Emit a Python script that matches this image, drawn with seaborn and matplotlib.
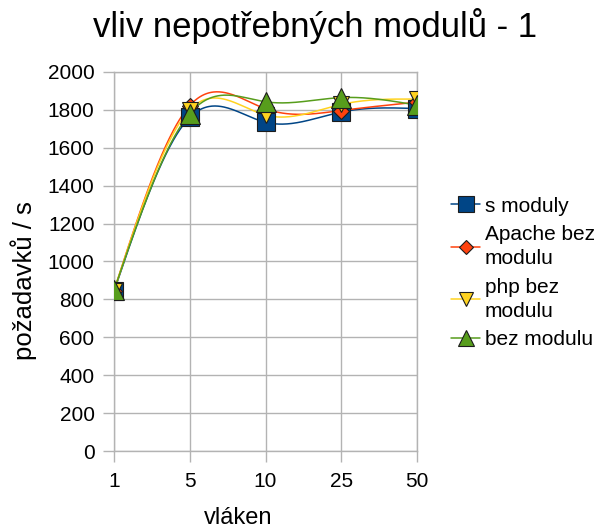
import matplotlib
matplotlib.use("Agg")
import matplotlib.pyplot as plt
from matplotlib.lines import Line2D
import numpy as np
import seaborn as sns

threads = ["1", "5", "10", "25", "50"]
s_moduly = [842, 1760, 1734, 1788, 1806]
apache_bez = [845, 1822, 1805, 1796, 1840]
php_bez = [846, 1800, 1772, 1828, 1856]
bez_modulu = [848, 1780, 1842, 1864, 1824]

series_names = ["s moduly", "Apache bez\nmodulu", "php bez\nmodulu", "bez modulu"]
series_vals = [s_moduly, apache_bez, php_bez, bez_modulu]
colors = ["#004586", "#ff420e", "#ffd320", "#579d1c"]
markers = ["s", "D", "v", "^"]
msizes = [13, 8, 12, 14]


def natural_spline(x, y, xs):
    x = np.asarray(x, float)
    y = np.asarray(y, float)
    n = len(x)
    h = np.diff(x)
    A = np.zeros((n, n))
    r = np.zeros(n)
    A[0, 0] = A[-1, -1] = 1
    for i in range(1, n - 1):
        A[i, i - 1] = h[i - 1]
        A[i, i] = 2 * (h[i - 1] + h[i])
        A[i, i + 1] = h[i]
        r[i] = 3 * ((y[i + 1] - y[i]) / h[i] - (y[i] - y[i - 1]) / h[i - 1])
    c = np.linalg.solve(A, r)
    out = np.empty_like(xs)
    for k, t in enumerate(xs):
        i = min(np.searchsorted(x, t, side="right") - 1, n - 2)
        dx = t - x[i]
        b = (y[i + 1] - y[i]) / h[i] - h[i] * (2 * c[i] + c[i + 1]) / 3
        d = (c[i + 1] - c[i]) / (3 * h[i])
        out[k] = y[i] + b * dx + c[i] * dx ** 2 + d * dx ** 3
    return out


sns.set_style("white")
plt.rcParams["font.family"] = ["Liberation Sans", "DejaVu Sans"]
plt.rcParams["text.color"] = "black"

fig = plt.figure(figsize=(6.0, 5.32), dpi=100)
ax = fig.add_axes([0.19, 0.152, 0.505, 0.713])

pos = np.arange(len(threads))
dense = np.linspace(0, len(threads) - 1, 400)

for vals, c in zip(series_vals, colors):
    sns.lineplot(x=dense, y=natural_spline(pos, vals, dense), color=c, lw=1.1, ax=ax, zorder=2)

for vals, c, m, ms in zip(series_vals, colors, markers, msizes):
    ax.plot(pos, vals, linestyle="none", marker=m, markersize=ms, color=c,
            markeredgecolor="#1c1c1c", markeredgewidth=0.8, zorder=3)

ax.set_xlim(0, len(threads) - 1)
ax.set_ylim(0, 2000)
ax.set_xticks(pos)
ax.set_xticklabels(threads)
ax.set_yticks(np.arange(0, 2001, 200))
ax.grid(True, color="#b3b3b3", lw=1)
ax.set_axisbelow(True)
for sp in ax.spines.values():
    sp.set_color("#b3b3b3")
    sp.set_linewidth(1)
ax.tick_params(axis="both", length=8, width=1, color="#b3b3b3", labelsize=15,
               labelcolor="black", direction="out", left=True, bottom=True)
ax.tick_params(axis="y", pad=6)
ax.tick_params(axis="x", pad=7)

ax.set_ylabel("požadavků / s", fontsize=18.5, color="black")
ax.yaxis.set_label_coords(-0.255, 0.45)
ax.set_xlabel("vláken", fontsize=17, color="black")
ax.xaxis.set_label_coords(0.41, -0.148)
fig.suptitle("vliv nepotřebných modulů - 1", fontsize=25, x=0.525, y=0.985, color="black")

handles = [Line2D([0], [0], color=c, lw=1.1, marker=m, markersize=ms * 0.85,
                  markeredgecolor="#1c1c1c", markeredgewidth=0.8)
           for c, m, ms in zip(colors, markers, msizes)]
leg = fig.legend(handles, series_names, loc="center left", bbox_to_anchor=(0.752, 0.487),
                 frameon=False, fontsize=15, handlelength=1.4, handletextpad=0.2,
                 labelspacing=0.45, borderaxespad=0, borderpad=0)
for t in leg.get_texts():
    t.set_linespacing(1.35)

fig.savefig("out.png", dpi=100)
